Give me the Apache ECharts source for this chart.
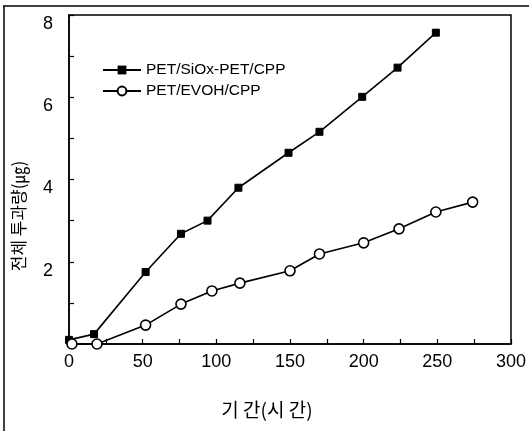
<!DOCTYPE html>
<html>
<head>
<meta charset="utf-8">
<script src="https://cdn.jsdelivr.net/npm/echarts@6/dist/echarts.min.js"></script>
<style>
  html, body { margin: 0; padding: 0; background: #fff; }
  #chart { width: 529px; height: 431px; }
</style>
</head>
<body>
<div id="chart"></div>
<script>
// hours (시간) and total permeation (㎍)
var siox_hours = [0, 17, 52, 76, 94, 115, 149, 170, 199, 223, 249];
var siox_values = [0.1, 0.24, 1.75, 2.68, 3.0, 3.8, 4.65, 5.16, 6.01, 6.72, 7.57];
var evoh_hours = [2, 19, 52, 76, 97, 116, 150, 170, 200, 224, 249, 274];
var evoh_values = [0, 0, 0.46, 0.97, 1.29, 1.48, 1.78, 2.19, 2.46, 2.8, 3.21, 3.45];
var x_labels = [0, 50, 100, 150, 200, 250, 300];
var y_labels = [2, 4, 6, 8];

var font = '"Liberation Sans", Arial, sans-serif';
var krFont = '"Noto Sans CJK KR", sans-serif';

function pairs(xs, ys) {
  return xs.map(function (x, i) { return [x, ys[i]]; });
}

var chart = echarts.init(document.getElementById('chart'));
var option = {
  backgroundColor: '#fff',
  animation: false,
  grid: {
    left: 69, right: 11, top: 15, bottom: 87,
    show: true,
    borderColor: '#000',
    borderWidth: 1.5
  },
  legend: {
    orient: 'vertical',
    left: 97,
    top: 57,
    itemWidth: 38,
    itemHeight: 11,
    itemGap: 5,
    textStyle: { fontFamily: font, fontSize: 15.5, color: '#000' },
    data: ['PET/SiOx-PET/CPP', 'PET/EVOH/CPP']
  },
  xAxis: {
    type: 'value',
    min: 0, max: 300, interval: 25,
    axisLine: { lineStyle: { color: '#000', width: 1.5 } },
    axisTick: { inside: true, length: 5, lineStyle: { color: '#000', width: 1.2 } },
    splitLine: { show: false },
    axisLabel: {
      margin: 9,
      fontFamily: font, fontSize: 18, color: '#000',
      formatter: function (v) { return x_labels.indexOf(v) >= 0 ? String(v) : ''; }
    }
  },
  yAxis: {
    type: 'value',
    min: 0, max: 8, interval: 1,
    axisLine: { show: true, lineStyle: { color: '#000', width: 1.5 } },
    axisTick: { show: true, inside: true, length: 5, lineStyle: { color: '#000', width: 1.2 } },
    splitLine: { show: false },
    axisLabel: {
      margin: 16,
      verticalAlign: 'top',
      fontFamily: font, fontSize: 18, color: '#000',
      formatter: function (v) { return y_labels.indexOf(v) >= 0 ? String(v) : ''; }
    }
  },
  graphic: [
    { type: 'line', shape: { x1: 3, y1: 6, x2: 529, y2: 6 }, style: { stroke: '#000', lineWidth: 1.5 } },
    { type: 'line', shape: { x1: 4, y1: 6, x2: 4, y2: 431 }, style: { stroke: '#000', lineWidth: 1.5 } },
    {
      type: 'text', x: 19, y: 216, rotation: Math.PI / 2,
      style: { text: '전체 투과량(㎍)', fontFamily: krFont, fontSize: 17, fill: '#000', align: 'center', verticalAlign: 'middle' }
    },
    {
      type: 'text', x: 267, y: 410,
      style: { text: '기 간(시 간)', fontFamily: krFont, fontSize: 19, fill: '#000', align: 'center', verticalAlign: 'middle' }
    }
  ],
  series: [
    {
      name: 'PET/SiOx-PET/CPP',
      type: 'line',
      data: pairs(siox_hours, siox_values),
      symbol: 'rect',
      symbolSize: 7,
      lineStyle: { color: '#000', width: 1.6 },
      itemStyle: { color: '#000', borderColor: '#000' }
    },
    {
      name: 'PET/EVOH/CPP',
      type: 'line',
      data: pairs(evoh_hours, evoh_values),
      symbol: 'circle',
      symbolSize: 10,
      lineStyle: { color: '#000', width: 1.6 },
      itemStyle: { color: '#fff', borderColor: '#000', borderWidth: 1.6 }
    }
  ]
};
chart.setOption(option);
</script>
</body>
</html>
